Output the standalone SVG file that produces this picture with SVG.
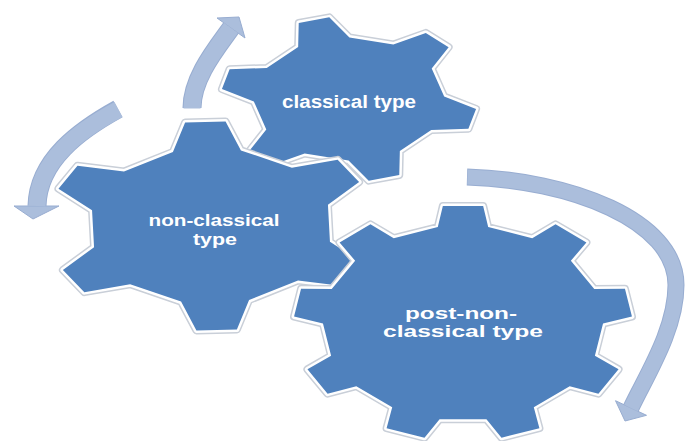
<svg xmlns="http://www.w3.org/2000/svg" width="686" height="441" viewBox="0 0 686 441">
<style>
.o1{fill:#c9cfd8;stroke:#c9cfd8;stroke-width:8;stroke-linejoin:round}
.o2{fill:#ffffff;stroke:#ffffff;stroke-width:5;stroke-linejoin:round}
.f{fill:#4f81bd;stroke:none}
.lbl{font-family:"Liberation Sans",Arial,sans-serif;font-weight:bold;fill:#ffffff;text-anchor:middle}
.ab-o{fill:none;stroke:#98add1;stroke-linecap:butt}
.ab{fill:none;stroke:#abbedc;stroke-linecap:butt}
.ah{fill:#abbedc;stroke:#98add1;stroke-width:1;stroke-linejoin:round}
</style>
<defs>
<path id="gear6" vector-effect="non-scaling-stroke" d="M-0.21,-0.72 L-0.125,-1 L0.125,-1 L0.21,-0.72 L0.5185,-0.5419 L0.8035,-0.6083 L0.9285,-0.3917 L0.7285,-0.1781 L0.7285,0.1781 L0.9285,0.3917 L0.8035,0.6083 L0.5185,0.5419 L0.21,0.72 L0.125,1 L-0.125,1 L-0.21,0.72 L-0.5185,0.5419 L-0.8035,0.6083 L-0.9285,0.3917 L-0.7285,0.1781 L-0.7285,-0.1781 L-0.9285,-0.3917 L-0.8035,-0.6083 L-0.5185,-0.5419 Z"/>
<path id="gear9" vector-effect="non-scaling-stroke" d="M-0.15,-0.82 L-0.12,-1 L0.12,-1 L0.15,-0.82 L0.4122,-0.7245 L0.5509,-0.8431 L0.7347,-0.6889 L0.642,-0.5317 L0.7815,-0.2901 L0.964,-0.2918 L1.0056,-0.0554 L0.8335,0.0053 L0.7851,0.2801 L0.926,0.3961 L0.806,0.6039 L0.6351,0.5399 L0.4214,0.7193 L0.4548,0.8987 L0.2292,0.9807 L0.1394,0.8219 L-0.1394,0.8219 L-0.2292,0.9807 L-0.4548,0.8987 L-0.4214,0.7193 L-0.6351,0.5399 L-0.806,0.6039 L-0.926,0.3961 L-0.7851,0.2801 L-0.8335,0.0053 L-1.0056,-0.0554 L-0.964,-0.2918 L-0.7815,-0.2901 L-0.642,-0.5317 L-0.7347,-0.6889 L-0.5509,-0.8431 L-0.4122,-0.7245 Z"/>
</defs>
<rect x="0" y="0" width="686" height="441" fill="#ffffff"/>

<g id="connectors">
<g id="arrow-top">
<path class="ab-o" stroke-width="19" d="M192,108 C192,78 216,49 231,28"/>
<polygon class="ah" points="217,18 245,38 239,17"/>
<path class="ab" stroke-width="17" d="M192,108.5 C192,78 216,49 231,28"/>
</g>
<g id="arrow-left">
<path class="ab-o" stroke-width="19" d="M118,109 C80,130 38,160 37,206"/>
<polygon class="ah" points="14,206 59,206 33,219"/>
<path class="ab" stroke-width="17" d="M118.5,109.5 C80,130 38,160 37,206"/>
</g>
<g id="arrow-right">
<path class="ab-o" stroke-width="17" d="M467,177 C570,180 676,220 676,285 C676,330 646,376 631,408"/>
<polygon class="ah" points="615.5,400.7 646.5,415.3 625,421"/>
<path class="ab" stroke-width="15" d="M467.5,177 C570,180 676,220 676,285 C676,330 646,376 631,408"/>
</g>
</g>

<g id="node-classical">
<g transform="translate(349,99) scale(127,82) rotate(-16)">
<use href="#gear6" class="o1"/>
<use href="#gear6" class="o2"/>
<use href="#gear6" class="f"/>
</g>
<text class="lbl" x="349" y="108" font-size="18" textLength="134" lengthAdjust="spacingAndGlyphs">classical type</text>
</g>

<g id="node-nonclassical">
<g transform="translate(211,226) scale(162,104) rotate(-2)">
<use href="#gear6" class="o1"/>
<use href="#gear6" class="o2"/>
<use href="#gear6" class="f"/>
</g>
<text class="lbl" x="214" y="226" font-size="16.5" textLength="131" lengthAdjust="spacingAndGlyphs">non-classical</text>
<text class="lbl" x="215" y="244.5" font-size="16.5" textLength="44" lengthAdjust="spacingAndGlyphs">type</text>
</g>

<g id="node-postnonclassical">
<g transform="translate(463,323) scale(168,117)">
<use href="#gear9" class="o1"/>
<use href="#gear9" class="o2"/>
<use href="#gear9" class="f"/>
</g>
<text class="lbl" x="461" y="318.5" font-size="16.5" textLength="112" lengthAdjust="spacingAndGlyphs">post-non-</text>
<text class="lbl" x="463" y="337" font-size="16.5" textLength="160" lengthAdjust="spacingAndGlyphs">classical type</text>
</g>
</svg>
